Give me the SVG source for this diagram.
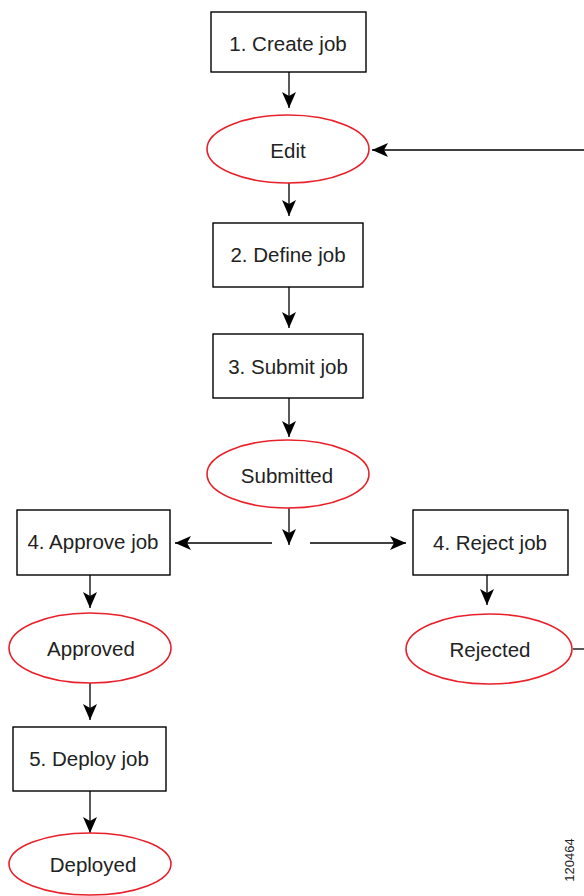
<svg xmlns="http://www.w3.org/2000/svg" width="584" height="896" viewBox="0 0 584 896">
<style>
.box{fill:#fff;stroke:#000;stroke-width:1.4}
.st{fill:#fff;stroke:#e8202a;stroke-width:1.6}
.t{font-family:"Liberation Sans",Arial,sans-serif;font-size:20.5px;fill:#222;text-anchor:middle;dominant-baseline:central}
.c{fill:none;stroke:#000;stroke-width:1.3}
</style>
<defs>
<marker id="ah" markerUnits="userSpaceOnUse" markerWidth="18" markerHeight="14" refX="16" refY="7" orient="auto">
<path d="M0,0 L16,7 L0,14 L4,7 Z" fill="#000"/>
</marker>
</defs>
<rect width="584" height="896" fill="#fff"/>
<g id="connectors">
<line class="c" x1="289" y1="72" x2="289" y2="108" marker-end="url(#ah)"/>
<line class="c" x1="584" y1="150" x2="372" y2="150" marker-end="url(#ah)"/>
<line class="c" x1="289" y1="183" x2="289" y2="216" marker-end="url(#ah)"/>
<line class="c" x1="289" y1="287" x2="289" y2="328" marker-end="url(#ah)"/>
<line class="c" x1="289" y1="398" x2="289" y2="437" marker-end="url(#ah)"/>
<line class="c" x1="289" y1="508" x2="289" y2="545" marker-end="url(#ah)"/>
<line class="c" x1="272" y1="543" x2="175" y2="543" marker-end="url(#ah)"/>
<line class="c" x1="310" y1="543" x2="406" y2="543" marker-end="url(#ah)"/>
<line class="c" x1="90" y1="575" x2="90" y2="608" marker-end="url(#ah)"/>
<line class="c" x1="487" y1="575" x2="487" y2="605" marker-end="url(#ah)"/>
<line class="c" x1="573" y1="649" x2="584" y2="649"/>
<line class="c" x1="90" y1="683" x2="90" y2="720" marker-end="url(#ah)"/>
<line class="c" x1="90" y1="791" x2="90" y2="833" marker-end="url(#ah)"/>
</g>
<g id="create"><rect class="box" x="211" y="12" width="155" height="60"/><text class="t" x="288" y="43">1. Create job</text></g>
<g id="edit"><ellipse class="st" cx="288" cy="149" rx="81" ry="34"/><text class="t" x="288" y="150">Edit</text></g>
<g id="define"><rect class="box" x="213" y="223" width="150" height="64"/><text class="t" x="288" y="254">2. Define job</text></g>
<g id="submit"><rect class="box" x="213" y="334" width="150" height="64"/><text class="t" x="288" y="366">3. Submit job</text></g>
<g id="submitted"><ellipse class="st" cx="288" cy="474" rx="81" ry="34"/><text class="t" x="287" y="475">Submitted</text></g>
<g id="approve"><rect class="box" x="17" y="510" width="153" height="65"/><text class="t" x="93" y="541">4. Approve job</text></g>
<g id="reject"><rect class="box" x="413" y="510" width="155" height="65"/><text class="t" x="490" y="542">4. Reject job</text></g>
<g id="approved"><ellipse class="st" cx="90" cy="648" rx="81" ry="35"/><text class="t" x="91" y="648">Approved</text></g>
<g id="rejected"><ellipse class="st" cx="489" cy="649" rx="83" ry="35"/><text class="t" x="490" y="649">Rejected</text></g>
<g id="deploy"><rect class="box" x="13" y="727" width="153" height="64"/><text class="t" x="89" y="758">5. Deploy job</text></g>
<g id="deployed"><ellipse class="st" cx="90" cy="864" rx="81" ry="31"/><text class="t" x="93" y="864">Deployed</text></g>
<text x="569" y="860" transform="rotate(-90 569 860)" style="font-family:'Liberation Sans',Arial,sans-serif;font-size:13px;fill:#222;text-anchor:middle;dominant-baseline:central">120464</text>
</svg>
